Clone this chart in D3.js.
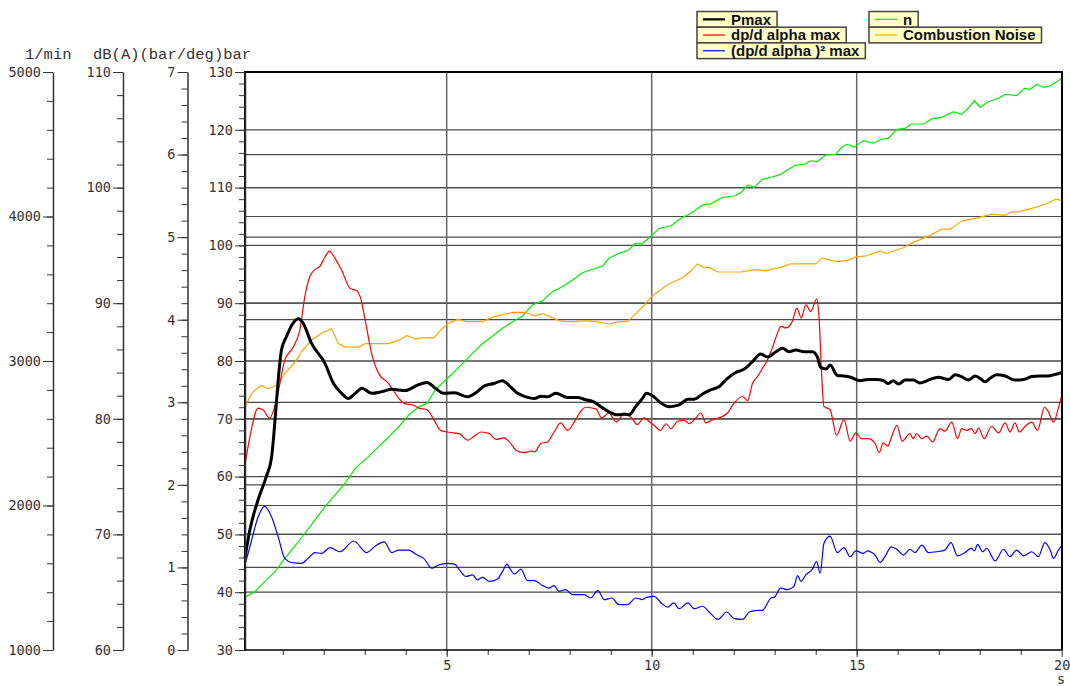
<!DOCTYPE html>
<html>
<head>
<meta charset="utf-8">
<script src="https://cdn.jsdelivr.net/npm/d3@7"></script>
<style>
  body { margin: 0; background: #fff; }
  svg { display: block; }
  .tick text { font-family: "DejaVu Sans Mono", monospace; font-size: 13.5px; fill: #333; }
  .axis path, .axis line { stroke: #333; }
</style>
</head>
<body>
<div id="chart"></div>
<script>
// time (s) and values
const pmaxT = [0.08,0.2,0.4,0.6,0.73,0.82,0.89,0.97,1.09,1.22,1.38,1.5,1.7,2.03,2.24,2.44,2.6,2.77,2.93,3.17,3.42,3.66,3.99,4.28,4.52,4.72,4.93,
  5.19,5.51,5.71,5.92,6.16,6.36,6.53,6.73,6.93,7.14,7.3,7.46,7.66,7.95,8.19,8.39,8.56,8.76,8.96,9.16,9.33,9.45,9.61,9.77,9.87,
  10.02,10.23,10.43,10.67,10.88,11.04,11.24,11.44,11.65,11.85,12.05,12.26,12.46,12.66,12.82,13.03,13.19,13.35,13.51,13.72,13.92,14.04,14.12,14.25,14.35,14.53,14.69,14.85,
  15.08,15.28,15.49,15.65,15.77,15.89,16.02,16.18,16.38,16.54,16.75,16.99,17.24,17.4,17.56,17.72,17.89,18.01,18.13,18.25,18.41,18.62,18.86,19.07,19.27,19.47,19.67,19.8,20.0];
const pmax = [45.9,50.8,56,60,63.4,70.4,76.7,81.9,84.2,86.2,87.3,86.5,83.1,79.6,76.1,74.4,73.5,74.4,75.3,74.4,74.7,75.1,74.9,75.8,76.3,75.3,74.4,
  74.5,73.8,74.5,75.7,76.1,76.6,75.7,74.4,73.8,73.5,73.9,73.8,74.4,73.7,73.7,73.3,73.0,72.1,71.2,70.7,70.8,70.7,72.1,73.5,74.4,
  74.0,72.7,72.1,72.4,73.4,73.4,74.3,75.0,75.6,77.0,78.0,78.6,79.9,81.2,80.7,81.6,82.2,81.6,81.9,81.6,81.6,80.7,78.9,78.6,79.3,77.5,77.4,77.2,
  76.6,76.8,76.8,76.6,76.1,76.6,76.0,76.7,76.7,76.2,76.7,77.2,76.8,77.6,77.3,76.7,77.4,77.0,76.4,77.0,77.6,77.4,76.7,76.8,77.3,77.4,77.4,77.6,78.0];

const dpT = [0.08,0.2,0.4,0.52,0.68,0.85,1.05,1.26,1.42,1.54,1.66,1.79,1.91,2.03,2.14,2.28,2.44,2.64,2.81,2.89,3.01,3.17,3.34,3.58,3.83,3.99,4.16,4.32,4.52,4.72,4.85,
  5.02,5.15,5.31,5.51,5.67,5.84,6.04,6.2,6.4,6.53,6.69,6.89,7.06,7.14,7.3,7.46,7.62,7.78,7.95,8.11,8.27,8.39,8.64,8.78,8.95,9.14,9.33,9.51,9.65,9.81,9.98,
  10.06,10.21,10.35,10.47,10.63,10.79,10.92,11.04,11.2,11.32,11.49,11.69,11.85,12.01,12.22,12.34,12.46,12.58,12.7,12.82,12.95,13.07,13.15,13.27,13.43,13.54,13.65,13.76,13.88,14.02,14.08,14.14,14.2,14.35,14.51,14.69,14.84,14.98,
  15.12,15.28,15.45,15.55,15.65,15.76,15.85,15.98,16.11,16.3,16.38,16.46,16.59,16.71,16.85,17.03,17.15,17.32,17.46,17.56,17.68,17.8,17.89,17.97,18.11,18.29,18.46,18.62,18.74,18.86,18.97,19.11,19.27,19.41,19.58,19.67,19.8,19.92,20.0];
const dpMax = [2.24,2.58,2.93,2.91,2.81,3.03,3.51,3.67,3.88,4.28,4.52,4.61,4.65,4.76,4.83,4.74,4.60,4.38,4.35,4.28,4.00,3.59,3.35,3.23,3.05,2.98,2.97,2.93,2.91,2.76,2.66,
  2.64,2.63,2.62,2.54,2.59,2.64,2.62,2.55,2.57,2.52,2.42,2.39,2.41,2.40,2.50,2.52,2.64,2.75,2.66,2.76,2.89,2.94,2.92,2.81,2.87,2.76,2.87,2.81,2.73,2.81,2.75,
  2.72,2.66,2.74,2.68,2.77,2.78,2.74,2.79,2.87,2.75,2.79,2.82,2.87,2.99,3.07,3.02,3.23,3.31,3.41,3.51,3.67,3.84,3.92,3.90,3.98,4.14,4.02,4.18,4.10,4.25,4.04,3.39,2.95,2.91,2.60,2.79,2.53,2.63,
  2.56,2.56,2.50,2.39,2.51,2.47,2.58,2.72,2.53,2.62,2.56,2.62,2.56,2.59,2.52,2.68,2.65,2.76,2.56,2.68,2.66,2.68,2.62,2.69,2.56,2.71,2.63,2.75,2.64,2.75,2.64,2.71,2.76,2.66,2.94,2.89,2.76,2.93,3.08];

const dp2T = [0.08,0.2,0.4,0.56,0.73,0.89,1.05,1.22,1.46,1.62,1.79,1.95,2.15,2.4,2.73,3.05,3.26,3.48,3.66,3.83,4.07,4.28,4.44,4.64,4.8,
  5.0,5.19,5.31,5.47,5.63,5.75,5.88,6.04,6.24,6.36,6.47,6.56,6.65,6.81,6.97,7.14,7.34,7.5,7.62,7.74,7.9,8.07,8.23,8.35,8.51,8.69,8.84,9.03,9.2,9.41,9.61,9.77,9.89,
  10.06,10.23,10.39,10.54,10.67,10.88,11.04,11.24,11.4,11.62,11.83,12.01,12.22,12.38,12.58,12.7,12.91,12.99,13.15,13.31,13.47,13.56,13.64,13.76,13.92,14.02,14.11,14.2,14.35,14.53,14.69,14.84,
  14.98,15.16,15.27,15.37,15.45,15.57,15.69,15.84,15.98,16.14,16.3,16.42,16.59,16.75,16.95,17.15,17.3,17.46,17.64,17.79,17.87,17.95,18.07,18.17,18.38,18.58,18.74,18.9,19.07,19.27,19.43,19.59,19.72,19.8,19.92,20.0];
const dp2Max = [1.03,1.25,1.61,1.74,1.61,1.37,1.11,1.06,1.05,1.11,1.18,1.17,1.24,1.19,1.32,1.18,1.26,1.31,1.18,1.21,1.21,1.15,1.11,0.99,1.03,
  1.05,1.04,0.97,0.89,0.91,0.85,0.88,0.83,0.86,0.95,1.04,0.97,0.92,0.98,0.84,0.84,0.78,0.75,0.78,0.71,0.73,0.67,0.67,0.67,0.63,0.72,0.61,0.63,0.55,0.55,0.63,0.61,0.64,
  0.65,0.57,0.52,0.57,0.50,0.57,0.50,0.53,0.46,0.37,0.46,0.38,0.37,0.46,0.48,0.48,0.63,0.64,0.75,0.73,0.77,0.90,0.83,0.91,0.98,1.07,0.93,1.29,1.38,1.18,1.24,1.13,
  1.20,1.17,1.20,1.18,1.15,1.06,1.13,1.25,1.22,1.15,1.22,1.18,1.27,1.18,1.19,1.21,1.30,1.14,1.18,1.23,1.20,1.28,1.19,1.23,1.08,1.22,1.13,1.21,1.14,1.19,1.13,1.30,1.21,1.11,1.21,1.26];

const nT = [0.08,0.32,0.56,0.81,1.05,1.3,1.54,1.79,2.03,2.28,2.52,2.77,3.09,3.34,3.58,3.83,4.07,4.32,4.52,4.72,4.97,5.15,5.39,5.63,5.88,6.12,6.36,6.61,6.85,7.09,7.34,7.58,7.82,8.07,8.31,8.56,8.8,8.96,9.2,9.41,9.61,9.77,9.98,
  10.19,10.47,10.71,10.96,11.24,11.44,11.73,12.01,12.18,12.34,12.5,12.7,12.95,13.15,13.31,13.51,13.72,13.88,14.04,14.25,14.49,14.65,14.77,14.94,
  15.16,15.41,15.61,15.77,15.98,16.18,16.34,16.63,16.83,17.07,17.36,17.56,17.72,17.87,18.01,18.21,18.46,18.63,18.9,19.09,19.23,19.39,19.55,19.72,19.88,20.0];
const nRpm = [1365,1404,1473,1542,1634,1720,1808,1900,1992,2073,2154,2257,2338,2407,2472,2545,2626,2684,2707,2799,2869,2915,2984,3053,3123,3173,3226,3272,3311,3388,3418,3480,3514,3561,3611,3635,3657,3711,3746,3764,3815,3811,3865,
  3918,3936,3988,4022,4080,4088,4133,4142,4165,4218,4202,4257,4275,4292,4322,4356,4360,4386,4380,4426,4430,4483,4500,4480,
  4525,4507,4536,4540,4603,4610,4640,4640,4675,4686,4725,4707,4749,4801,4756,4794,4818,4846,4837,4887,4880,4915,4894,4905,4933,4956];

const noiseT = [0.08,0.24,0.48,0.64,0.85,1.05,1.3,1.46,1.7,1.95,2.19,2.36,2.52,2.85,3.01,3.58,3.83,4.03,4.24,4.4,4.69,4.85,5.06,5.27,5.47,5.67,5.88,6.12,6.36,6.61,6.93,7.14,7.34,7.54,7.74,7.95,8.15,8.35,8.64,8.96,9.2,9.41,9.61,9.81,10.0,
  10.39,10.75,10.96,11.12,11.24,11.4,11.61,11.85,12.18,12.5,12.78,12.99,13.15,13.39,13.72,14.0,14.16,14.49,14.77,14.98,15.24,15.57,15.73,16.14,16.34,16.75,17.07,17.28,17.56,17.97,18.29,18.62,18.78,18.94,19.27,19.63,19.85,20.0];
const noiseDb = [81.05,82.2,82.9,82.6,82.9,83.9,84.9,85.8,86.8,87.4,87.8,86.5,86.2,86.2,86.5,86.5,86.8,87.2,86.9,87.0,87.0,87.7,88.3,88.6,88.4,88.4,88.4,88.8,89.0,89.2,89.2,88.9,89.1,88.8,88.5,88.4,88.4,88.5,88.4,88.2,88.4,88.4,89.1,89.8,90.6,
  91.6,92.2,92.8,93.4,93.1,93.1,92.7,92.7,92.7,92.9,92.8,93.0,93.1,93.4,93.4,93.4,93.9,93.6,93.7,94.0,94.1,94.5,94.3,94.8,95.2,95.8,96.4,96.4,97.1,97.4,97.7,97.6,97.9,97.9,98.2,98.6,99.0,98.9];

const legendNames = ["Pmax", "dp/d alpha max", "(dp/d alpha )\u00b2 max", "n", "Combustion Noise"];
const legendColors = ["#000000", "#ff0000", "#0000ff", "#00ee00", "#ffa500"];
const axisTitles = ["1/min", "dB(A)", "(bar/deg)", "bar"];
const xTicks = [5, 10, 15, 20];

const svg = d3.select("#chart").append("svg")
  .attr("width", 1070)
  .attr("height", 686);

const plot = { left: 245, right: 1062, top: 72, bottom: 650 };

const x = d3.scaleLinear().domain([0, 20]).range([241.7, 1061.7]);
const yBar = d3.scaleLinear().domain([30, 130]).range([plot.bottom, plot.top]);
const yDeg = d3.scaleLinear().domain([0, 7]).range([plot.bottom, plot.top]);
const yDb = d3.scaleLinear().domain([60, 110]).range([plot.bottom, plot.top]);
const yRpm = d3.scaleLinear().domain([1000, 5000]).range([plot.bottom, plot.top]);

// horizontal grid lines at every major tick of the four axes
const grid = svg.append("g");
const hLines = [
  ...d3.range(40, 130, 10).map(v => yBar(v)),
  ...d3.range(1, 7).map(v => yDeg(v)),
  ...d3.range(70, 110, 10).map(v => yDb(v)),
  ...[2000, 3000, 4000].map(v => yRpm(v))
];
grid.selectAll(".hgrid")
  .data(hLines)
  .enter().append("line")
  .attr("class", "hgrid")
  .attr("x1", plot.left).attr("x2", plot.right)
  .attr("y1", d => d).attr("y2", d => d)
  .style("stroke", "#4a4a4a")
  .style("stroke-width", 1.2);

grid.selectAll(".vgrid")
  .data([5, 10, 15])
  .enter().append("line")
  .attr("class", "vgrid")
  .attr("x1", d => x(d)).attr("x2", d => x(d))
  .attr("y1", plot.top).attr("y2", plot.bottom)
  .style("stroke", "#666")
  .style("stroke-width", 1.5);

// series
const series = [
  { t: nT, v: nRpm, y: yRpm, color: legendColors[3], w: 1.2, curve: d3.curveLinear },
  { t: noiseT, v: noiseDb, y: yDb, color: legendColors[4], w: 1.2, curve: d3.curveLinear },
  { t: dp2T, v: dp2Max, y: yDeg, color: legendColors[2], w: 1.2, curve: d3.curveMonotoneX },
  { t: dpT, v: dpMax, y: yDeg, color: legendColors[1], w: 1.2, curve: d3.curveMonotoneX },
  { t: pmaxT, v: pmax, y: yBar, color: legendColors[0], w: 3, curve: d3.curveMonotoneX }
];

series.forEach(s => {
  const pts = d3.zip(s.t, s.v);
  const line = d3.line()
    .x(d => x(d[0]))
    .y(d => s.y(d[1]))
    .curve(s.curve);
  svg.append("path")
    .datum(pts)
    .attr("d", line)
    .style("fill", "none")
    .style("stroke", s.color)
    .style("stroke-width", s.w)
    .style("stroke-linejoin", "round");
});

// frame
svg.append("path")
  .attr("d", `M${plot.left},${plot.bottom}V${plot.top}H${plot.right}V${plot.bottom}`)
  .style("fill", "none")
  .style("stroke", "#000")
  .style("stroke-width", 2);

// left axes: minor ticks + labelled major ticks
function leftAxis(scale, xPos, majors, minors) {
  svg.append("g")
    .attr("class", "axis")
    .attr("transform", `translate(${xPos},0)`)
    .call(d3.axisLeft(scale).tickValues(minors).tickSize(6).tickSizeOuter(0).tickFormat(""))
    .call(g => g.select(".domain").style("stroke-width", 1.5));
  svg.append("g")
    .attr("class", "axis")
    .attr("transform", `translate(${xPos},0)`)
    .call(d3.axisLeft(scale).tickValues(majors).tickSize(10).tickSizeOuter(0).tickPadding(2).tickFormat(d3.format("d")))
    .call(g => g.select(".domain").remove());
}

leftAxis(yRpm, 53, d3.range(1000, 5001, 1000), d3.range(1000, 5001, 200));
leftAxis(yDb, 123, d3.range(60, 111, 10), d3.range(60, 111, 2));
leftAxis(yDeg, 187.5, d3.range(0, 8), d3.range(0, 36).map(i => i * 0.2));
leftAxis(yBar, plot.left, d3.range(30, 131, 10), d3.range(30, 131, 2));

// x axis
svg.append("g")
  .attr("class", "axis")
  .attr("transform", `translate(0,${plot.bottom})`)
  .call(d3.axisBottom(x).tickValues(d3.range(1, 20)).tickSize(5).tickSizeOuter(0).tickFormat(""))
  .call(g => g.select(".domain").remove());
svg.append("g")
  .attr("class", "axis")
  .attr("transform", `translate(0,${plot.bottom})`)
  .call(d3.axisBottom(x).tickValues(xTicks).tickSize(7).tickSizeOuter(0).tickPadding(3).tickFormat(d3.format("d")))
  .call(g => g.select(".domain").remove());

svg.append("line")
  .attr("x1", plot.left).attr("x2", plot.right)
  .attr("y1", plot.bottom).attr("y2", plot.bottom)
  .style("stroke", "#000").style("stroke-width", 1.5);

svg.append("text")
  .attr("x", 1061).attr("y", 684)
  .attr("text-anchor", "middle")
  .style("font-family", "DejaVu Sans Mono, monospace")
  .style("font-size", "13.5px")
  .style("fill", "#333")
  .text("s");

// axis titles, packed side by side in one monospace run
const cw = 9.3;
const titleX = [25, 93, 93 + 5 * cw, 93 + 14 * cw];
svg.selectAll(".atitle")
  .data(axisTitles)
  .enter().append("text")
  .attr("class", "atitle")
  .attr("x", (d, i) => titleX[i])
  .attr("y", 59)
  .style("font-family", "Liberation Mono, monospace")
  .style("font-size", "15.5px")
  .style("fill", "#333")
  .text(d => d);

// legend
const legendPos = [
  { x: 697, y: 11.5 }, { x: 697, y: 27.2 }, { x: 697, y: 42.9 },
  { x: 869, y: 11.5 }, { x: 869, y: 27.2 }
];
const boxH = 15.7;
legendNames.forEach((name, i) => {
  const p = legendPos[i];
  const g = svg.append("g").attr("transform", `translate(${p.x},${p.y})`);
  const rect = g.append("rect")
    .attr("height", boxH)
    .style("fill", "#ffffc8")
    .style("stroke", "#444")
    .style("stroke-width", 1.5);
  g.append("line")
    .attr("x1", 6).attr("x2", 28)
    .attr("y1", boxH / 2).attr("y2", boxH / 2)
    .style("stroke", legendColors[i])
    .style("stroke-width", i === 0 ? 2.2 : 1.2);
  const txt = g.append("text")
    .attr("x", 34).attr("y", 13.2)
    .style("font-family", "Liberation Sans, Arial, sans-serif")
    .style("font-weight", "bold")
    .style("font-size", "15px")
    .style("fill", "#111")
    .text(name);
  rect.attr("width", 34 + txt.node().getComputedTextLength() + 6);
});
</script>
</body>
</html>
